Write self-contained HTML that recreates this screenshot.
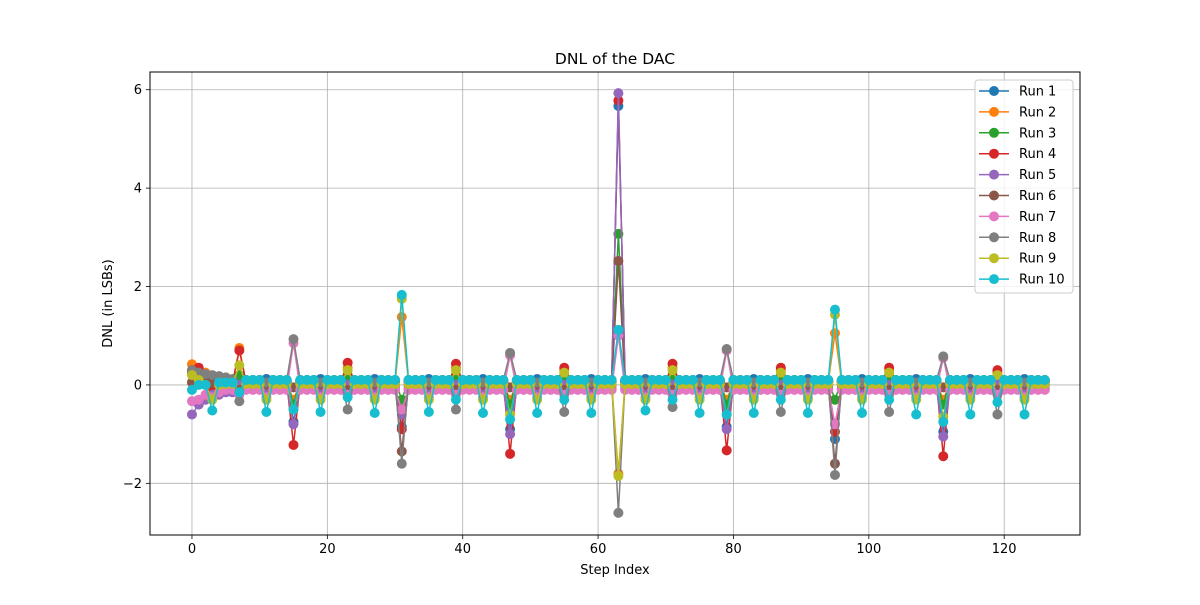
<!DOCTYPE html>
<html><head><meta charset="utf-8"><style>
body{margin:0;background:#fff;width:1200px;height:600px;overflow:hidden}
svg text{font-family:"DejaVu Sans","Liberation Sans",sans-serif;fill:#000}
</style></head><body>
<svg id="chart" width="1200" height="600">
<rect width="1200" height="600" fill="#fff"/>
</svg>
<script>
const runNames=["Run 1","Run 2","Run 3","Run 4","Run 5","Run 6","Run 7","Run 8","Run 9","Run 10"];
const colors=["#1f77b4","#ff7f0e","#2ca02c","#d62728","#9467bd","#8c564b","#e377c2","#7f7f7f","#bcbd22","#17becf"];
const xTicks=[0,20,40,60,80,100,120];
const yTicks=[-2,0,2,4,6];
const run1=[.25,.2,.15,.12,.1,.08,.08,.02,.08,.08,.08,.12,.08,.08,.08,-.75,.08,.08,.08,.12,.08,.08,.08,.02,.08,.08,.08,.12,.08,.08,.08,-.85,
.08,.08,.08,.12,.08,.08,.08,.02,.08,.08,.08,.12,.08,.08,.08,-.9,.08,.08,.08,.12,.08,.08,.08,.02,.08,.08,.08,.12,.08,.08,.08,5.67,
.08,.08,.08,.12,.08,.08,.08,.02,.08,.08,.08,.12,.08,.08,.08,-.85,.08,.08,.08,.12,.08,.08,.08,.02,.08,.08,.08,.12,.08,.08,.08,-1.1,
.08,.08,.08,.12,.08,.08,.08,.02,.08,.08,.08,.12,.08,.08,.08,-.95,.08,.08,.08,.12,.08,.08,.08,.02,.08,.08,.08,.12,.08,.08,.08];
const run2=[.42,.3,.25,-.1,.1,.05,.05,.75,.05,.05,.05,-.1,.05,.05,.05,-.3,.05,.05,.05,-.1,.05,.05,.05,.35,.05,.05,.05,-.1,.05,.05,.05,1.38,
.05,.05,.05,-.1,.05,.05,.05,.35,.05,.05,.05,-.1,.05,.05,.05,-.3,.05,.05,.05,-.1,.05,.05,.05,.3,.05,.05,.05,-.1,.05,.05,.05,-1.8,
.05,.05,.05,-.1,.05,.05,.05,.35,.05,.05,.05,-.1,.05,.05,.05,-.3,.05,.05,.05,-.1,.05,.05,.05,.3,.05,.05,.05,-.1,.05,.05,.05,1.05,
.05,.05,.05,-.1,.05,.05,.05,.3,.05,.05,.05,-.1,.05,.05,.05,-.3,.05,.05,.05,-.1,.05,.05,.05,.25,.05,.05,.05,-.1,.05,.05,.05];
const run3=[.22,.2,.15,0,.12,.1,.1,.2,.1,.1,.1,0,.1,.1,.1,-.4,.1,.1,.1,0,.1,.1,.1,.2,.1,.1,.1,0,.1,.1,.1,-.3,
.1,.1,.1,0,.1,.1,.1,.2,.1,.1,.1,0,.1,.1,.1,-.4,.1,.1,.1,0,.1,.1,.1,.2,.1,.1,.1,0,.1,.1,.1,3.07,
.1,.1,.1,0,.1,.1,.1,.2,.1,.1,.1,0,.1,.1,.1,-.4,.1,.1,.1,0,.1,.1,.1,.2,.1,.1,.1,0,.1,.1,.1,-.3,
.1,.1,.1,0,.1,.1,.1,.2,.1,.1,.1,0,.1,.1,.1,-.4,.1,.1,.1,0,.1,.1,.1,.2,.1,.1,.1,0,.1,.1,.1];
const run4=[.3,.35,.2,-.15,.1,.15,.05,.7,.05,.05,.05,-.15,.05,.05,.05,-1.22,.05,.05,.05,-.15,.05,.05,.05,.45,.05,.05,.05,-.15,.05,.05,.05,-.9,
.05,.05,.05,-.15,.05,.05,.05,.43,.05,.05,.05,-.15,.05,.05,.05,-1.4,.05,.05,.05,-.15,.05,.05,.05,.35,.05,.05,.05,-.15,.05,.05,.05,5.78,
.05,.05,.05,-.15,.05,.05,.05,.43,.05,.05,.05,-.15,.05,.05,.05,-1.33,.05,.05,.05,-.15,.05,.05,.05,.35,.05,.05,.05,-.15,.05,.05,.05,-.95,
.05,.05,.05,-.15,.05,.05,.05,.35,.05,.05,.05,-.15,.05,.05,.05,-1.45,.05,.05,.05,-.15,.05,.05,.05,.3,.05,.05,.05,-.15,.05,.05,.05];
const run5=[-.6,-.4,-.3,-.2,-.2,-.15,-.15,0,-.08,-.08,-.08,-.15,-.08,-.08,-.08,-.8,-.08,-.08,-.08,-.15,-.08,-.08,-.08,0,-.08,-.08,-.08,-.15,-.08,-.08,-.08,-.6,
-.08,-.08,-.08,-.15,-.08,-.08,-.08,0,-.08,-.08,-.08,-.15,-.08,-.08,-.08,-1.0,-.08,-.08,-.08,-.15,-.08,-.08,-.08,0,-.08,-.08,-.08,-.15,-.08,-.08,-.08,5.93,
-.08,-.08,-.08,-.15,-.08,-.08,-.08,0,-.08,-.08,-.08,-.15,-.08,-.08,-.08,-.9,-.08,-.08,-.08,-.15,-.08,-.08,-.08,0,-.08,-.08,-.08,-.15,-.08,-.08,-.08,-.8,
-.08,-.08,-.08,-.15,-.08,-.08,-.08,0,-.08,-.08,-.08,-.15,-.08,-.08,-.08,-1.05,-.08,-.08,-.08,-.15,-.08,-.08,-.08,0,-.08,-.08,-.08,-.15,-.08,-.08,-.08];
const run6=[.05,.1,.1,.05,.05,0,0,-.1,0,0,0,0,0,0,0,-.05,0,0,0,0,0,0,0,-.1,0,0,0,0,0,0,0,-1.35,
0,0,0,0,0,0,0,-.1,0,0,0,0,0,0,0,-.05,0,0,0,0,0,0,0,-.1,0,0,0,0,0,0,0,2.52,
0,0,0,0,0,0,0,-.1,0,0,0,0,0,0,0,-.05,0,0,0,0,0,0,0,-.1,0,0,0,0,0,0,0,-1.6,
0,0,0,0,0,0,0,-.1,0,0,0,0,0,0,0,-.05,0,0,0,0,0,0,0,-.1,0,0,0,0,0,0,0];
const run7=[-.33,-.3,-.2,-.25,-.15,-.1,-.1,-.2,-.1,-.1,-.1,-.25,-.1,-.1,-.1,.85,-.1,-.1,-.1,-.25,-.1,-.1,-.1,-.2,-.1,-.1,-.1,-.25,-.1,-.1,-.1,-.5,
-.1,-.1,-.1,-.25,-.1,-.1,-.1,-.2,-.1,-.1,-.1,-.25,-.1,-.1,-.1,.6,-.1,-.1,-.1,-.25,-.1,-.1,-.1,-.2,-.1,-.1,-.1,-.25,-.1,-.1,-.1,1.0,
-.1,-.1,-.1,-.25,-.1,-.1,-.1,-.2,-.1,-.1,-.1,-.25,-.1,-.1,-.1,.7,-.1,-.1,-.1,-.25,-.1,-.1,-.1,-.2,-.1,-.1,-.1,-.25,-.1,-.1,-.1,-.8,
-.1,-.1,-.1,-.25,-.1,-.1,-.1,-.2,-.1,-.1,-.1,-.25,-.1,-.1,-.1,.55,-.1,-.1,-.1,-.25,-.1,-.1,-.1,-.2,-.1,-.1,-.1,-.25,-.1,-.1,-.1];
const run8=[.3,.25,.22,.2,.18,.15,.12,-.33,.1,.1,.1,.05,.1,.1,.1,.93,.1,.1,.1,.05,.1,.1,.1,-.5,.1,.1,.1,.05,.1,.1,.1,-1.6,
.1,.1,.1,.05,.1,.1,.1,-.5,.1,.1,.1,.05,.1,.1,.1,.65,.1,.1,.1,.05,.1,.1,.1,-.55,.1,.1,.1,.05,.1,.1,.1,-2.6,
.1,.1,.1,.05,.1,.1,.1,-.45,.1,.1,.1,.05,.1,.1,.1,.73,.1,.1,.1,.05,.1,.1,.1,-.55,.1,.1,.1,.05,.1,.1,.1,-1.83,
.1,.1,.1,.05,.1,.1,.1,-.55,.1,.1,.1,.05,.1,.1,.1,.58,.1,.1,.1,.05,.1,.1,.1,-.6,.1,.1,.1,.05,.1,.1,.1];
const run9=[.2,.1,0,-.3,.0,.02,.02,.4,.02,.02,.02,-.3,.02,.02,.02,-.5,.02,.02,.02,-.3,.02,.02,.02,.3,.02,.02,.02,-.3,.02,.02,.02,1.75,
.02,.02,.02,-.3,.02,.02,.02,.3,.02,.02,.02,-.3,.02,.02,.02,-.6,.02,.02,.02,-.3,.02,.02,.02,.25,.02,.02,.02,-.3,.02,.02,.02,-1.85,
.02,.02,.02,-.3,.02,.02,.02,.3,.02,.02,.02,-.3,.02,.02,.02,-.6,.02,.02,.02,-.3,.02,.02,.02,.25,.02,.02,.02,-.3,.02,.02,.02,1.43,
.02,.02,.02,-.3,.02,.02,.02,.25,.02,.02,.02,-.3,.02,.02,.02,-.65,.02,.02,.02,-.3,.02,.02,.02,.2,.02,.02,.02,-.3,.02,.02,.02];
const run10=[-.1,0,0,-.52,.05,.05,.05,-.15,.1,.1,.1,-.55,.1,.1,.1,-.5,.1,.1,.1,-.55,.1,.1,.1,-.25,.1,.1,.1,-.57,.1,.1,.1,1.83,
.1,.1,.1,-.55,.1,.1,.1,-.3,.1,.1,.1,-.57,.1,.1,.1,-.7,.1,.1,.1,-.57,.1,.1,.1,-.3,.1,.1,.1,-.57,.1,.1,.1,1.12,
.1,.1,.1,-.52,.1,.1,.1,-.3,.1,.1,.1,-.57,.1,.1,.1,-.6,.1,.1,.1,-.57,.1,.1,.1,-.3,.1,.1,.1,-.57,.1,.1,.1,1.53,
.1,.1,.1,-.57,.1,.1,.1,-.3,.1,.1,.1,-.6,.1,.1,.1,-.75,.1,.1,.1,-.6,.1,.1,.1,-.35,.1,.1,.1,-.6,.1,.1,.1];
const series=[run1,run2,run3,run4,run5,run6,run7,run8,run9,run10];

const NS="http://www.w3.org/2000/svg";
const svg=document.getElementById('chart');
const L=150,R=1080,T=72,B=535,X0=-6.2,X1=131.2,Y0=-3.05,Y1=6.36;
const MR=5;
const xs=v=>L+(v-X0)/(X1-X0)*(R-L);
const ys=v=>B-(v-Y0)/(Y1-Y0)*(B-T);
function mk(tag,attrs,parent){const e=document.createElementNS(NS,tag);for(const k in attrs)e.setAttribute(k,attrs[k]);(parent||svg).appendChild(e);return e;}

const grid=mk('g',{});


xTicks.forEach(t=>{
  const l=mk('line',{x1:xs(t),x2:xs(t),y1:T,y2:B,stroke:'#b0b0b0','stroke-width':0.8},grid);
  
  
  const tk=mk('line',{x1:xs(t),x2:xs(t),y1:B,y2:B+4,stroke:'#000','stroke-width':0.8});
  
  
  const tx=mk('text',{x:xs(t),y:B+18,'text-anchor':'middle','font-size':13});
  tx.textContent=t;
  
  
});
yTicks.forEach(t=>{
  const l=mk('line',{x1:L,x2:R,y1:ys(t),y2:ys(t),stroke:'#b0b0b0','stroke-width':0.8},grid);
  
  
  const tk=mk('line',{x1:L-4,x2:L,y1:ys(t),y2:ys(t),stroke:'#000','stroke-width':0.8});
  
  
  const tx=mk('text',{x:L-8,y:ys(t)+4.5,'text-anchor':'end','font-size':13});
  tx.textContent=t<0?'\u2212'+(-t):t;
  
  
});

series.forEach((d,i)=>{
  const g=mk('g',{});
  
  
  const pts=d.map((v,j)=>xs(j)+','+ys(v)).join(' ');
  const pl=mk('polyline',{points:pts,fill:'none',stroke:colors[i],'stroke-width':1.5},g);
  
  
  d.forEach((v,j)=>{
    const c=mk('circle',{cx:xs(j),cy:ys(v),r:MR,fill:colors[i]},g);
    
    
  });
});

const frame=mk('rect',{x:L,y:T,width:R-L,height:B-T,fill:'none',stroke:'#000','stroke-width':1});



const title=mk('text',{x:(L+R)/2,y:64,'text-anchor':'middle','font-size':15.5});
title.textContent='DNL of the DAC';


const xl=mk('text',{x:(L+R)/2,y:574,'text-anchor':'middle','font-size':13});
xl.textContent='Step Index';


const yl=mk('text',{x:112,y:(T+B)/2,'text-anchor':'middle','font-size':13,transform:'rotate(-90 112 '+((T+B)/2)+')'});
yl.textContent='DNL (in LSBs)';



const leg=mk('g',{});


const lb=mk('rect',{x:975,y:80,width:98,height:213,rx:3,fill:'#fff','fill-opacity':0.8,stroke:'#ccc','stroke-width':1},leg);


runNames.forEach((n,i)=>{
  const y=91+i*20.9;
  const e=mk('g',{},leg);
  
  
  mk('line',{x1:979,x2:1009,y1:y,y2:y,stroke:colors[i],'stroke-width':1.5},e);
  mk('circle',{cx:994,cy:y,r:MR,fill:colors[i]},e);
  const t=mk('text',{x:1019,y:y+4.5,'font-size':13},e);
  t.textContent=n;
});
</script>
</body></html>
